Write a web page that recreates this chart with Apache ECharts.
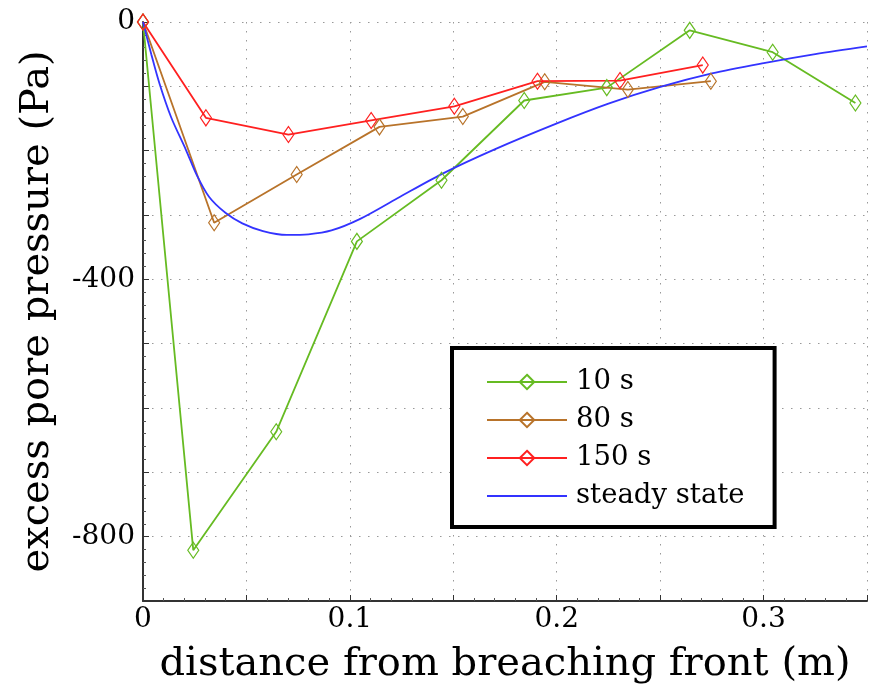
<!DOCTYPE html>
<html>
<head>
<meta charset="utf-8">
<script src="https://cdn.jsdelivr.net/npm/echarts@6/dist/echarts.min.js"></script>
<style>html,body{margin:0;padding:0;background:#fff}#c{width:870px;height:693px}</style>
</head>
<body>
<div id="c"></div>
<script>
// distance from breaching front (m)
const x10 = [0, 0.0243, 0.0644, 0.1034, 0.1443, 0.1843, 0.2242, 0.2643, 0.3044, 0.3444];
const y10 = [0, -821, -637, -341, -246, -122, -102, -13, -47, -126];
const x80 = [0, 0.0344, 0.0743, 0.1143, 0.1546, 0.1942, 0.2344, 0.2745];
const y80 = [0, -312, -237, -163, -147, -93, -105, -92];
const x150 = [0, 0.0304, 0.0703, 0.1103, 0.1505, 0.1907, 0.2306, 0.2706];
const y150 = [0, -149, -175, -153, -131, -92, -91, -67];
const xSteady = [0, 0.004, 0.008, 0.0136, 0.0208, 0.026, 0.032, 0.04, 0.048, 0.058, 0.0695, 0.08, 0.0911, 0.105, 0.123, 0.1446, 0.17, 0.1998, 0.225, 0.2501, 0.275, 0.3001, 0.325, 0.35];
const ySteady = [0, -50, -96, -148, -199, -238, -272, -297, -313, -325, -331, -330, -324, -306, -274, -236, -198, -158, -127, -101, -80, -64, -50, -38];
const seriesNames = ['10 s', '80 s', '150 s', 'steady state'];
const seriesColors = ['#66bb22', '#b8732a', '#ff2020', '#3333ff'];
const yLabelStep = 400;
const xLabelStep = 0.1;

const FONT = 'DejaVu Serif';
function pairs(xs, ys) { return xs.map((x, i) => [x, ys[i]]); }
function markerSeries(name, color, xs, ys) {
  return {
    name: name, type: 'line', data: pairs(xs, ys), clip: false,
    symbol: 'diamond', symbolSize: [11, 16], symbolKeepAspect: false,
    lineStyle: { color: color, width: 1.8 },
    itemStyle: { color: 'rgba(255,255,255,0)', borderColor: color, borderWidth: 1.2 },
    emphasis: { disabled: true }
  };
}
const series = [
  markerSeries(seriesNames[0], seriesColors[0], x10, y10),
  markerSeries(seriesNames[1], seriesColors[1], x80, y80),
  markerSeries(seriesNames[2], seriesColors[2], x150, y150),
  {
    name: seriesNames[3], type: 'line', data: pairs(xSteady, ySteady), clip: false,
    smooth: 0.3, showSymbol: false, symbol: 'none',
    lineStyle: { color: seriesColors[3], width: 1.8 },
    itemStyle: { color: seriesColors[3] },
    emphasis: { disabled: true }
  }
];
function fmtX(v) {
  const k = v / xLabelStep;
  if (Math.abs(k - Math.round(k)) > 1e-6) return '';
  const r = Math.round(k);
  return r === 0 ? '0' : (r * xLabelStep).toFixed(1);
}
function fmtY(v) {
  const r = Math.round(v);
  return (r % yLabelStep === 0) ? String(r) : '';
}
const chart = echarts.init(document.getElementById('c'), null, { renderer: 'canvas' });
chart.setOption({
  animation: false,
  backgroundColor: '#fff',
  grid: { left: 143, right: -3, top: 22, bottom: 92, containLabel: false },
  xAxis: {
    type: 'value', min: 0, max: 0.35, interval: 0.05,
    name: 'distance from breaching front (m)', nameLocation: 'middle', nameGap: 44,
    nameTextStyle: { fontFamily: FONT, fontSize: 40, color: '#000' },
    axisLine: { show: true, onZero: false, lineStyle: { color: '#333', width: 2 } },
    axisTick: { show: true, inside: true, length: 6, lineStyle: { color: '#333' } },
    minorTick: { show: true, splitNumber: 5, length: 3, lineStyle: { color: '#555' } },
    axisLabel: { fontFamily: FONT, fontSize: 28, color: '#000', margin: 5, formatter: fmtX },
    splitLine: { show: true, lineStyle: { color: '#999', type: [1.5, 7.5], width: 1 } }
  },
  yAxis: {
    type: 'value', min: -900, max: 0, interval: 100,
    name: 'excess pore pressure (Pa)', nameLocation: 'middle', nameGap: 85,
    nameTextStyle: { fontFamily: FONT, fontSize: 40, color: '#000' },
    axisLine: { show: true, onZero: false, lineStyle: { color: '#333', width: 2 } },
    axisTick: { show: true, inside: true, length: 6, lineStyle: { color: '#333' } },
    minorTick: { show: true, splitNumber: 5, length: 3, lineStyle: { color: '#555' } },
    axisLabel: { fontFamily: FONT, fontSize: 28, color: '#000', margin: 8, formatter: fmtY },
    splitLine: { show: true, lineStyle: { color: '#999', type: [1.5, 7.5], width: 1 } }
  },
  legend: {
    orient: 'vertical', left: 452, top: 348,
    data: [seriesNames[0], seriesNames[1], seriesNames[2],
      { name: seriesNames[3], itemStyle: { opacity: 0 } }],
    backgroundColor: '#fff', borderColor: '#000', borderWidth: 4,
    padding: [19, 30, 16, 34],
    itemWidth: 80, itemHeight: 18, itemGap: 8,
    textStyle: { fontFamily: FONT, fontSize: 27.5, color: '#000', lineHeight: 30, padding: [0, 0, 0, 4] },
    selectedMode: false
  },
  series: series
});
</script>
</body>
</html>
